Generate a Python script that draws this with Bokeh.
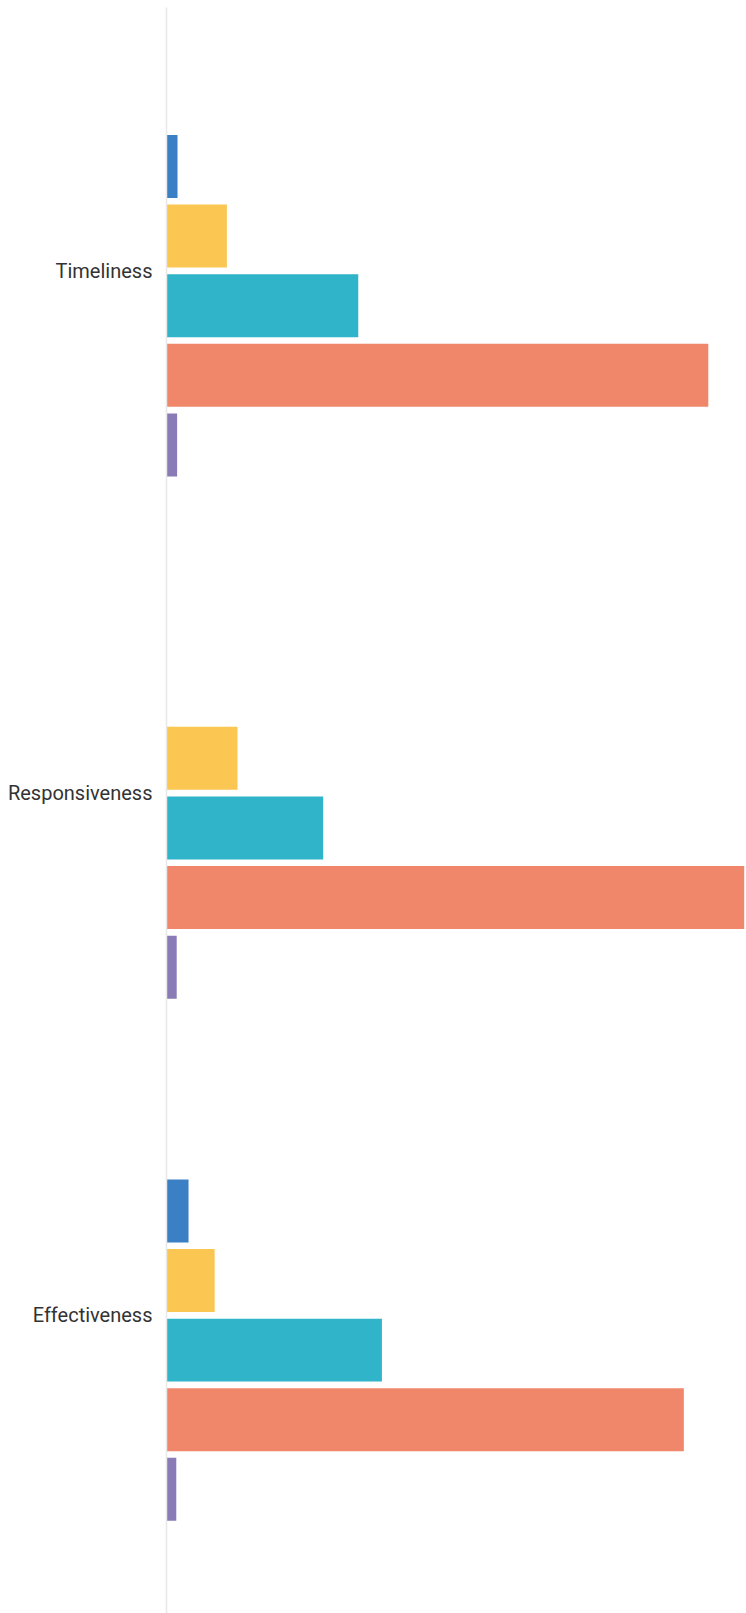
from bokeh.plotting import figure
from bokeh.models import Range1d, FixedTicker, ColumnDataSource
from bokeh.embed import file_html
from bokeh.resources import INLINE

# Rated aspects (one group of bars each)
categories = ["Timeliness", "Responsiveness", "Effectiveness"]

# Rating options, drawn top to bottom inside each group
series_names = ["Rating 1", "Rating 2", "Rating 3", "Rating 4", "Rating 5", "N/A"]

# Share of responses (%) for each option, per aspect
rating_1 = [0.0, 0.0, 0.0]
rating_2 = [1.35, 0.0, 2.7]
rating_3 = [7.4, 8.7, 5.9]
rating_4 = [23.5, 19.2, 26.4]
rating_5 = [66.4, 70.8, 63.4]
rating_na = [1.3, 1.25, 1.2]

series_values = [rating_1, rating_2, rating_3, rating_4, rating_5, rating_na]
colors = ["#00bf6f", "#3b80c4", "#fbc652", "#30b4c9", "#f0876a", "#8a7ab6"]

# Layout of the grouped bars (in category units)
SLOT = 0.1333          # distance between neighbouring bars in a group
BAR_HEIGHT = 0.1206    # thickness of each bar

p = figure(
    width=746,
    height=1613,
    output_backend="svg",
    toolbar_location=None,
    x_range=Range1d(0, 71.08),
    y_range=Range1d(2.571, -0.5044),
    x_axis_location=None,
    min_border_left=166,
    min_border_right=0,
    min_border_top=7,
    min_border_bottom=0,
)
p.outline_line_color = None
p.background_fill_color = "white"
p.border_fill_color = "white"
p.xgrid.visible = False
p.ygrid.visible = False

n = len(series_values)
for k, (name, vals, col) in enumerate(zip(series_names, series_values, colors)):
    ys = [i + (k - (n - 1) / 2) * SLOT for i in range(len(categories))]
    src = ColumnDataSource(dict(y=ys, right=vals, cat=categories))
    p.hbar(y="y", left=0, right="right", height=BAR_HEIGHT, source=src,
           fill_color=col, line_color=None, name=name)

yaxis = p.yaxis[0]
yaxis.ticker = FixedTicker(ticks=list(range(len(categories))))
yaxis.major_label_overrides = {i: c for i, c in enumerate(categories)}
yaxis.major_label_text_font = "Roboto"
yaxis.major_label_text_font_size = "20px"
yaxis.major_label_text_color = "#333333"
yaxis.major_label_standoff = 8
yaxis.major_tick_line_color = None
yaxis.minor_tick_line_color = None
yaxis.axis_line_color = "#e8e8e8"
yaxis.axis_line_width = 1.5

open("out.html", "w").write(file_html(p, INLINE))
